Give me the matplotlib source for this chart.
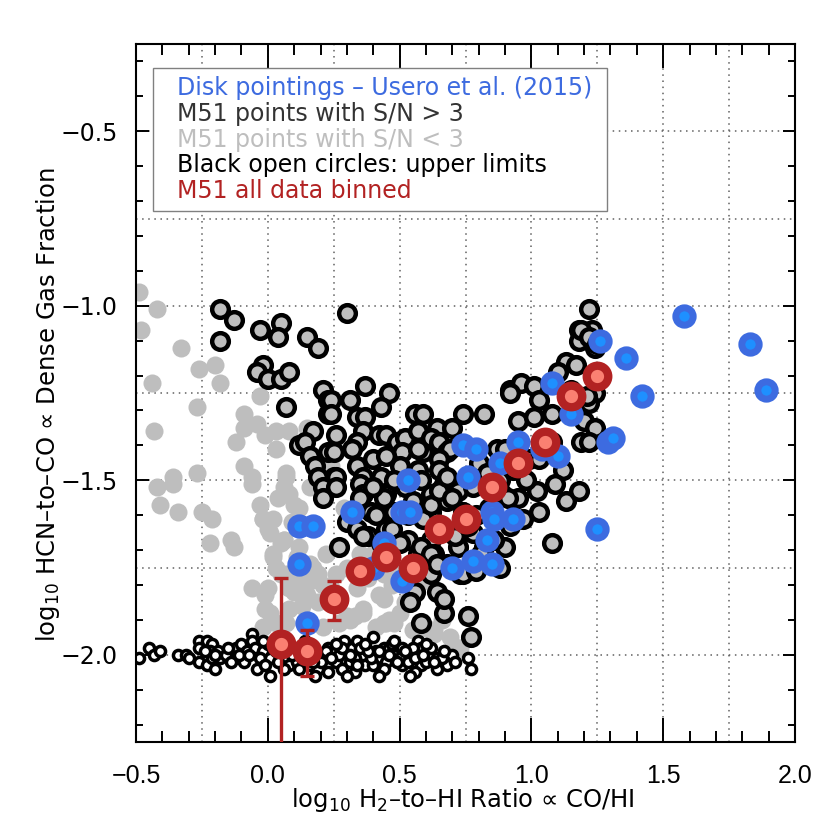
import numpy as np
import matplotlib
matplotlib.use('Agg')
from matplotlib import pyplot as plt
from matplotlib.ticker import MultipleLocator
from matplotlib.patches import Rectangle

# M51, S/N < 3 (light grey dots)
low_sn_x = [-0.49, -0.42, -0.48, -0.33, -0.26, -0.20, -0.18, -0.44, -0.27, -0.43, -0.03, -0.09, -0.09,
            -0.04, -0.01, 0.03, 0.08, 0.03, -0.12, 0.15, -0.09, -0.06, -0.27, -0.36, 0.07,
            -0.42, -0.36, -0.41, -0.34, -0.25, -0.21, -0.22, -0.14, -0.13, -0.06, -0.03, -0.02, 0.02,
            0.00, 0.06, 0.10, 0.06, 0.02, 0.03, 0.17, 0.16, -0.06, -0.01, 0.10, -0.01, 0.08, 0.15, 0.03,
            0.02, 0.07, 0.00, 0.08, 0.01, 0.12, 0.19, 0.26, 0.34, 0.30, 0.36, 0.45, 0.44, 0.50, 0.57,
            0.73, 0.63, 0.21, 0.24, 0.06, 0.12, 0.16, 0.16, 0.24, 0.07, 0.08, -0.02, 0.01, 0.05, 0.29,
            0.39, 0.40, 0.49, 0.59, 0.44, -0.02, 0.07, 0.27, 0.33, 0.41, 0.48, 0.59, 0.63, 0.71, 0.31,
            0.36, 0.44, 0.62, 0.72,
            0.04, 0.09, 0.12, 0.05, 0.11, 0.13, 0.19, 0.21, 0.22, 0.27, 0.30, 0.35, 0.38, 0.42, 0.47,
            0.52, 0.46, 0.55, 0.66, 0.69]
low_sn_y = [-0.96, -1.01, -1.07, -1.12, -1.18, -1.17, -1.22, -1.22, -1.29, -1.36, -1.26, -1.31, -1.35,
            -1.34, -1.37, -1.36, -1.36, -1.41, -1.39, -1.35, -1.46, -1.49, -1.48, -1.49, -1.49,
            -1.52, -1.51, -1.57, -1.59, -1.59, -1.61, -1.68, -1.67, -1.69, -1.51, -1.57, -1.61, -1.61,
            -1.64, -1.52, -1.57, -1.67, -1.71, -1.75, -1.75, -1.79, -1.81, -1.83, -1.82, -1.87, -1.87,
            -1.83, -1.91, -1.72, -1.77, -1.81, -1.81, -1.88, -1.79, -1.77, -1.77, -1.81, -1.89, -1.88,
            -1.91, -1.84, -1.88, -1.93, -1.98, -1.94, -1.92, -1.81, -1.67, -1.69, -1.74, -1.52, -1.46,
            -1.48, -1.54, -1.61, -1.65, -1.68, -1.58, -1.59, -1.71, -1.76, -1.79, -1.77, -1.92, -1.91,
            -1.91, -1.89, -1.92, -1.91, -1.92, -1.93, -1.98, -1.90, -1.87, -1.91, -1.93, -1.98,
            -1.55, -1.62, -1.58, -1.77, -1.72, -1.86, -1.85, -1.80, -1.71, -1.84, -1.75, -1.71, -1.78,
            -1.83, -1.80, -1.85, -1.90, -1.93, -1.90, -1.95]

# upper limits (black open circles over grey)
ring_x = [-0.18, -0.13, -0.18, -0.03, 0.05, 0.04, 0.15, 0.19, -0.02, -0.04, 0.00, 0.05, 0.08, 0.07,
          0.21, 0.23, 0.23, 0.17, 0.12, 0.14, 0.16, 0.23, 0.18, 0.25,
          0.30, 0.37, 0.46, 0.31, 0.24, 0.43, 0.24, 0.34, 0.37, 0.56, 0.74, 0.82, 0.92, 0.96, 0.95,
          0.26, 0.36, 0.42, 0.45, 0.34, 0.32, 0.25, 0.49, 0.52, 0.57, 0.51, 0.59, 0.64, 0.70, 0.62,
          0.65, 0.68, 0.40, 0.45, 0.34, 0.26, 0.36, 0.43, 0.50, 0.57, 0.87, 0.90,
          0.19, 0.21, 0.21, 0.26, 0.35, 0.57, 0.36, 0.30, 0.34, 0.38, 0.27, 0.45, 0.48, 0.45, 0.53,
          0.43, 0.57, 0.62, 0.63, 0.56, 0.54, 0.58, 0.62, 0.64, 0.67, 0.76, 0.77, 0.73, 0.68, 0.57,
          0.62, 0.62, 0.67, 0.68, 0.72, 0.74, 0.78, 0.58, 0.69,
          0.35, 0.39, 0.36, 0.47, 0.50, 0.59, 0.62, 0.65, 0.70, 0.58, 0.62, 0.57, 0.64, 0.67, 0.89,
          0.95, 0.90, 0.74, 0.79, 0.72, 0.71, 0.82, 0.86,
          1.22, 1.18, 1.18, 1.23, 1.24, 1.13, 1.17, 1.10, 1.24, 1.22, 1.15, 0.92, 1.01, 1.03, 1.08,
          1.01, 0.59, 1.20, 1.24, 1.19, 1.22, 1.12, 1.08, 1.02, 1.09, 1.13, 1.18, 1.08, 1.03, 0.97,
          0.91, 0.65, 0.65, 0.68, 1.19, 1.22, 1.25, 1.21,
          0.80, 0.83, 0.78, 0.88, 0.93, 0.96, 0.99, 1.03, 0.98, 0.84, 0.79, 0.76, 0.81, 0.88, 0.92,
          0.44, 0.52, 0.55, 0.48, 0.40, 0.41, 0.53]
ring_y = [-1.01, -1.04, -1.10, -1.07, -1.05, -1.09, -1.09, -1.12, -1.17, -1.19, -1.21, -1.21, -1.19, -1.29,
          -1.24, -1.27, -1.31, -1.36, -1.40, -1.39, -1.43, -1.42, -1.46, -1.49,
          -1.02, -1.23, -1.25, -1.27, -1.27, -1.29, -1.31, -1.32, -1.32, -1.31, -1.31, -1.31, -1.24, -1.22, -1.33,
          -1.37, -1.36, -1.37, -1.37, -1.39, -1.41, -1.42, -1.39, -1.38, -1.36, -1.42, -1.42, -1.35, -1.35, -1.38,
          -1.39, -1.42, -1.44, -1.43, -1.46, -1.49, -1.49, -1.49, -1.46, -1.47, -1.41, -1.41,
          -1.49, -1.52, -1.55, -1.52, -1.51, -1.41, -1.54, -1.62, -1.64, -1.66, -1.69, -1.54, -1.59, -1.64, -1.67,
          -1.68, -1.71, -1.67, -1.71, -1.82, -1.85, -1.91, -1.77, -1.82, -1.88, -1.89, -1.95, -1.77, -1.74, -1.59,
          -1.59, -1.54, -1.51, -1.56, -1.53, -1.59, -1.65, -1.50, -1.41,
          -1.55, -1.59, -1.66, -1.64, -1.68, -1.61, -1.57, -1.53, -1.55, -1.69, -1.71, -1.74, -1.74, -1.84, -1.54,
          -1.55, -1.69, -1.77, -1.76, -1.69, -1.66, -1.69, -1.67,
          -1.01, -1.07, -1.10, -1.07, -1.12, -1.16, -1.17, -1.19, -1.25, -1.28, -1.24, -1.25, -1.23, -1.27, -1.31,
          -1.32, -1.31, -1.33, -1.35, -1.39, -1.39, -1.47, -1.39, -1.53, -1.51, -1.56, -1.53, -1.68, -1.59, -1.61,
          -1.55, -1.44, -1.47, -1.49, -1.07, -1.09, -1.11, -1.26,
          -1.45, -1.48, -1.52, -1.50, -1.47, -1.45, -1.44, -1.44, -1.50, -1.58, -1.60, -1.63, -1.71, -1.75, -1.63,
          -1.55, -1.52, -1.56, -1.50, -1.52, -1.60, -1.60]

# upper limits piled up near the HCN floor
floor_x = [-0.49, -0.45, -0.43, -0.41, -0.34, -0.31, -0.30, -0.26, -0.26, -0.23, -0.21, -0.22, -0.19, -0.18,
           -0.26, -0.23, -0.20, -0.21, -0.13, -0.12, -0.10, -0.06, -0.06, -0.08, -0.11, -0.05, -0.02, -0.03,
           0.01, -0.04, 0.01, -0.01, 0.03, 0.07, 0.08, 0.11, 0.13, 0.16, 0.19, 0.23, 0.23, 0.21, 0.25, 0.26,
           0.29, 0.30, 0.32, 0.34, 0.36, 0.37, 0.40, 0.40, 0.41, 0.44, 0.46, 0.48, 0.51, 0.51, 0.54, 0.57,
           0.58, 0.58, 0.61, 0.64, 0.68, 0.76, 0.77,
           -0.16, -0.14, -0.09, 0.00, 0.05, 0.10, 0.15, 0.18, 0.20, 0.27, 0.31, 0.33, 0.35, 0.39, 0.43,
           0.45, 0.47, 0.50, 0.53, 0.55, 0.60, 0.62, 0.66, 0.70, 0.06, 0.12, 0.28, 0.33, 0.44, 0.56, 0.64,
           -0.24, -0.20, -0.15, -0.11, -0.07, -0.02, 0.02, 0.04, 0.09, 0.14, 0.17, 0.22, 0.24, 0.28, 0.31,
           0.34, 0.38, 0.42, 0.46, 0.49, 0.52, 0.56, 0.59, 0.63, 0.67, 0.71, 0.14, 0.26, 0.37, 0.48, 0.60,
           0.18, 0.30, 0.42, 0.54]
floor_y = [-2.01, -1.98, -2.00, -1.99, -2.00, -2.00, -2.01, -1.96, -1.98, -1.96, -1.97, -1.99, -1.99, -2.01,
           -2.02, -2.03, -2.04, -2.01, -2.00, -1.98, -1.97, -1.94, -1.96, -1.99, -2.01, -1.98, -1.99, -2.01,
           -2.01, -2.04, -2.06, -2.03, -1.99, -2.01, -2.03, -2.02, -2.01, -2.03, -2.04, -2.05, -1.98, -2.00,
           -1.99, -2.02, -1.96, -1.99, -1.98, -1.96, -2.00, -2.03, -1.95, -2.03, -1.99, -1.98, -1.98, -2.00,
           -1.98, -2.03, -2.00, -1.96, -1.98, -2.03, -2.00, -2.01, -2.03, -2.01, -2.04,
           -2.00, -2.02, -2.02, -1.97, -1.97, -1.99, -1.98, -2.00, -2.02, -2.00, -2.02, -2.01, -1.98, -2.01,
           -2.01, -2.02, -1.97, -2.01, -2.02, -1.98, -2.02, -1.98, -2.01, -2.00, -2.04, -2.04, -2.04, -2.05,
           -2.04, -2.05, -2.04,
           -1.99, -2.00, -1.98, -2.00, -2.00, -1.96, -1.98, -2.02, -2.00, -1.99, -2.02, -1.99, -2.01, -1.98,
           -2.00, -2.03, -1.99, -1.99, -2.00, -2.02, -1.99, -2.01, -2.00, -2.02, -1.99, -2.02, -1.96, -1.97,
           -1.97, -1.96, -1.97, -2.06, -2.06, -2.06, -2.06]

# Disk pointings, Usero et al. (2015)
usero_x = [1.58, 1.83, 1.89, 1.26, 1.36, 1.42, 1.08, 1.15, 1.29, 1.31, 1.25, 0.74, 0.79, 0.95, 1.04,
           1.10, 0.88, 0.76, 0.85, 0.86, 0.93, 0.83, 0.78, 0.85, 0.70, 0.32, 0.51, 0.54, 0.53, 0.44,
           0.40, 0.51, 0.12, 0.17, 0.12, 0.15]
usero_y = [-1.03, -1.11, -1.24, -1.10, -1.15, -1.26, -1.22, -1.31, -1.39, -1.38, -1.64, -1.40, -1.41,
           -1.39, -1.41, -1.43, -1.45, -1.49, -1.59, -1.61, -1.61, -1.67, -1.73, -1.74, -1.75, -1.59,
           -1.59, -1.59, -1.50, -1.68, -1.75, -1.79, -1.63, -1.63, -1.74, -1.91]

# M51 all data binned
bin_x = [0.05, 0.15, 0.25, 0.35, 0.45, 0.55, 0.65, 0.75, 0.85, 0.95, 1.05, 1.15, 1.25]
bin_y = [-1.97, -1.99, -1.84, -1.76, -1.72, -1.75, -1.64, -1.61, -1.52, -1.45, -1.39, -1.26, -1.20]
bin_err_lo = [0.50, 0.07, 0.06, 0.03, 0.03, 0.03, 0.03, 0.03, 0.03, 0.03, 0.03, 0.03, 0.03]
bin_err_hi = [0.19, 0.06, 0.05, 0.03, 0.03, 0.03, 0.03, 0.03, 0.03, 0.03, 0.03, 0.03, 0.03]

legend_lines = ['Disk pointings \u2013 Usero et al. (2015)',
                'M51 points with S/N > 3',
                'M51 points with S/N < 3',
                'Black open circles: upper limits',
                'M51 all data binned']
legend_colors = ['#3d6be0', '#333333', '#bebebe', '#000000', '#b22222']

fig = plt.figure(figsize=(8.3, 8.3), dpi=100)
ax = fig.add_axes([136 / 830, 88 / 830, 659 / 830, 698 / 830])
ax.set_xlim(-0.5, 2.0)
ax.set_ylim(-2.25, -0.25)

# dotted grid every 0.25
for v in np.arange(-0.25, 1.9, 0.25):
    ax.axvline(v, color='#606060', lw=1.1, ls=(0, (1, 3)), zorder=0)
for v in np.arange(-2.0, -0.3, 0.25):
    ax.axhline(v, color='#606060', lw=1.1, ls=(0, (1, 3)), zorder=0)

ax.plot(low_sn_x, low_sn_y, 'o', ms=13, mfc='#bebebe', mec='none', zorder=1)
ax.plot(ring_x, ring_y, 'o', ms=12, mfc='#bebebe', mec='black', mew=3.2, zorder=2)
ax.plot(floor_x, floor_y, 'o', ms=7.3, mfc='white', mec='black', mew=2.5, zorder=2)
ax.plot(usero_x, usero_y, 'o', ms=12.5, mfc='#1e90ff', mec='#3d6be0', mew=5, zorder=3)
ax.errorbar(bin_x, bin_y, yerr=[bin_err_lo, bin_err_hi], fmt='none', ecolor='#b22222',
            elinewidth=2.4, capsize=5, capthick=2.4, zorder=4)
ax.plot(bin_x, bin_y, 'o', ms=15.5, mfc='#fa8072', mec='#b22222', mew=6, zorder=5)

ax.xaxis.set_major_locator(MultipleLocator(0.5))
ax.xaxis.set_minor_locator(MultipleLocator(0.1))
ax.yaxis.set_major_locator(MultipleLocator(0.5))
ax.yaxis.set_minor_locator(MultipleLocator(0.1))
ax.tick_params(which='both', direction='in', top=True, right=True, width=1.4)
ax.tick_params(axis='x', which='major', length=17, pad=16, labelsize=18,
               labelfontfamily='Liberation Sans')
ax.tick_params(axis='x', which='minor', length=8)
ax.tick_params(axis='y', which='major', length=9, pad=13, labelsize=17,
               labelfontfamily='DejaVu Sans')
ax.tick_params(axis='y', which='minor', length=5)
for s in ax.spines.values():
    s.set_linewidth(1.5)

# legend box
ax.add_patch(Rectangle((0.026, 0.761), 0.689, 0.205, transform=ax.transAxes,
                       facecolor='white', edgecolor='#808080', lw=1, zorder=9))
for i, (txt, col) in enumerate(zip(legend_lines, legend_colors)):
    ax.text(0.062, 0.937 - i * 0.037, txt, color=col, fontsize=17, family='DejaVu Sans',
            transform=ax.transAxes, va='center', ha='left', zorder=10)

fig.text(463 / 830, 1 - 800 / 830, 'log$_{10}$ H$_2$\u2013to\u2013HI Ratio \u221d CO/HI',
         fontsize=17.5, ha='center', va='center')
fig.text(48 / 830, 1 - 405 / 830, 'log$_{10}$ HCN\u2013to\u2013CO \u221d Dense Gas Fraction',
         fontsize=17.5, ha='center', va='center', rotation=90)

plt.savefig('out.png', dpi=100)
